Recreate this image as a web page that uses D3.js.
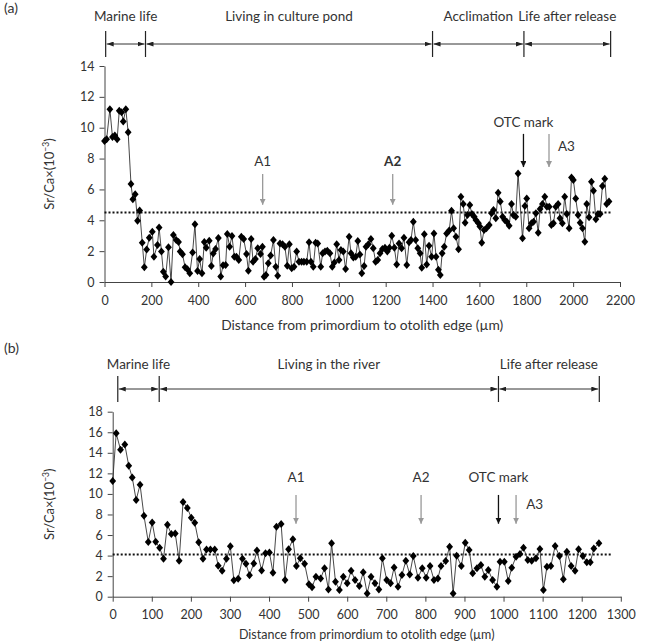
<!DOCTYPE html>
<html>
<head>
<meta charset="utf-8">
<script src="https://cdn.jsdelivr.net/npm/d3@7"></script>
<style>
  html, body { margin: 0; padding: 0; background: #fff; }
  svg { display: block; }
  text { font-family: Lato, "Open Sans", sans-serif; fill: #333; }
</style>
</head>
<body>
<svg id="chart" width="649" height="641"></svg>
<script>
// ---------------- DATA ----------------
// Panel (a): distance (µm) and Sr/Ca (×10^-3)
const distA = [0,9,23,34,44,54,63,73,80,91,101,113,121,131,141,150,161,170,180,191,204,211,226,233,243,251,261,273,284,294,306,316,323,333,344,354,364,376,386,397,406,416,426,434,447,456,464,474,486,496,506,517,524,534,544,554,563,573,584,594,606,614,626,634,644,654,666,
674,681,689,699,709,721,731,739,749,760,770,780,789,799,809,820,830,841,851,863,873,881,891,901,910,923,931,941,951,962,972,981,991,1001,1009,1019,1029,1044,1052,1062,1072,1081,1090,1098,1108,1116,1126,1137,1147,1157,1166,1176,1186,1197,1207,1216,1226,1237,1247,1257,1268,1278,1290,1300,1308,1318,1328,1337,1347,1354,1365,1375,1385,1396,1406,1415,1425,1433,
1441,1450,1460,1471,1481,1490,1500,1511,1521,1531,1539,1549,1559,1568,1578,1585,1596,1602,1610,1620,1630,1642,1652,1660,1670,1680,1689,1699,1708,1717,1727,1737,1745,1755,1765,1784,1794,1802,1812,1822,1831,1841,1851,1859,1869,1879,1888,1898,1907,1916,1926,1936,1944,1954,1964,1973,1983,1993,2001,2011,2021,2030,2040,2050,2058,2068,2078,2087,2097,2106,2115,2125,2135,2143,2153];
const srcaA = [9.14,9.25,11.2,9.4,9.5,9.25,11.1,11.0,10.4,11.2,9.7,6.35,5.36,5.68,3.97,4.64,2.55,0.95,2.1,2.87,3.26,1.64,2.4,3.54,1.97,0.67,0.35,2.25,0,3.05,2.72,2.6,1.97,1.8,0.95,0.82,0.56,1.92,3.74,0.71,1.49,0.56,2.6,2.22,2.68,1.04,1.85,2.14,2.85,0.35,1.08,1.1,3.11,2.29,2.98,1.64,1.64,1.43,2.94,2.79,1.81,0.73,2.79,1.32,1.49,2.18,1.81,
2.29,0.34,0.45,1.21,1.71,2.72,0.99,0.41,2.5,2.44,2.29,1.06,2.44,0.89,0.99,1.97,1.32,1.32,1.32,1.32,2.57,1.32,0.99,2.55,2.5,0.99,1.86,1.97,2.03,1.86,0.99,1.27,2.44,1.43,2.07,1.97,0.84,2.94,1.86,1.58,1.64,2.66,1.79,0.56,1.04,2.29,2.44,2.79,2.18,1.32,1.43,1.86,2.14,2.22,1.97,2.22,3.0,2.22,1.14,2.5,2.18,2.87,1.1,2.57,2.72,3.91,2.72,2.18,1.86,0.93,3.09,1.14,2.35,1.64,3.15,1.64,0.8,0.45,
1.86,2.29,3.15,3.33,4.62,3.48,2.94,2.12,5.53,5.05,3.84,4.34,4.99,4.41,4.23,4.02,3.8,3.59,2.55,3.37,3.48,3.69,4.45,4.67,4.13,5.79,5.21,4.23,4.02,3.91,3.65,5.05,4.34,4.23,7.04,2.83,4.92,5.42,3.48,3.8,3.91,4.45,3.2,4.73,5.05,5.53,4.88,4.88,3.69,3.8,4.88,5.05,4.13,3.8,5.53,4.41,3.48,6.78,6.61,5.42,4.34,3.84,3.48,2.61,5.05,4.19,6.5,5.92,4.06,4.41,4.41,6.22,6.7,5.05,5.21];

// Panel (b)
const distB = [0,9,20,31,41,50,60,70,80,91,101,110,120,130,140,150,160,170,180,191,201,210,220,231,240,250,261,270,280,291,301,310,321,332,341,350,361,369,381,391,401,410,419,431,441,450,461,470,480,491,502,510,520,532,542,552,560,570,580,590,600,610,620,631,641,651,661,671,681,690,701,711,720,730,740,750,760,769,781,792,802,812,822,832,840,852,862,871,880,892,902,912,921,932,942,952,961,972,983,991,1002,1012,1021,1032,1042,1051,1062,1072,1083,1093,1102,1111,1121,1132,1143,1153,1162,1173,1183,1192,1203,1213,1222,1231,1244];
const srcaB = [11.26,15.9,14.3,14.8,12.75,11.6,9.4,10.9,7.88,5.32,7.23,5.35,4.77,3.7,7.0,6.1,6.16,3.5,9.21,8.63,7.69,7.2,5.29,3.7,4.6,4.6,4.6,3.02,2.53,3.7,4.9,1.59,1.75,3.7,3.21,2.08,3.24,4.5,2.56,4.22,4.31,2.34,6.81,7.07,1.62,4.61,5.58,2.98,3.73,3.21,1.2,0.91,1.95,1.78,2.76,0.71,5.19,1.46,0.65,1.95,1.3,2.53,1.62,1.04,2.37,0.32,1.95,1.3,0.71,3.73,1.62,1.3,2.85,0.97,2.11,3.5,2.17,3.96,1.85,2.76,1.85,2.98,1.62,1.78,2.98,3.47,4.87,0.32,3.99,2.98,5.25,4.54,2.27,2.76,3.08,1.95,2.59,1.62,0.97,3.41,3.41,1.52,2.82,3.89,4.15,4.77,3.57,3.5,3.73,4.64,0.65,2.92,2.98,4.93,3.96,1.69,4.38,2.98,2.53,4.61,3.96,3.34,3.34,4.7,5.19];

// Thresholds (dotted lines)
const thresholdA = 4.5, thresholdEndA = 2165;
const thresholdB = 4.1, thresholdEndB = 1277;

// Tick labels
const xTicksA = [0,200,400,600,800,1000,1200,1400,1600,1800,2000,2200];
const yTicksA = [0,2,4,6,8,10,12,14];
const xTicksB = [0,100,200,300,400,500,600,700,800,900,1000,1100,1200,1300];
const yTicksB = [0,2,4,6,8,10,12,14,16,18];

// Life-history phases (boundaries in µm)
const phaseLabelsA = ["Marine life","Living in culture pond","Acclimation","Life after release"];
const phaseBoundsA = [5,175,1400,1790,2160];
const phaseLabelsB = ["Marine life","Living in the river","Life after release"];
const phaseBoundsB = [13,119,987,1245];

// Annotation arrows: label, x (µm), arrow top/bottom (value units), label position
const annLabelsA = ["A1","A2","OTC mark","A3"];
const annXA = [675,1230,1788,1897];
const annTopA = [7.0,7.0,9.6,9.6];
const annBotA = [5.0,5.0,7.45,7.45];
const annTextYA = [7.5,7.55,10.05,8.5];
const annTextXA = [675,1230,1788,1935];

const annLabelsB = ["A1","A2","OTC mark","A3"];
const annXB = [469,789,987,1032];
const annTopB = [9.9,9.9,9.9,9.9];
const annBotB = [7.1,7.1,7.1,7.1];
const annTextYB = [11.15,11.15,11.15,8.5];
const annTextXB = [469,789,987,1058];

// ---------------- DRAW ----------------
const FONT = "Lato, 'Open Sans', sans-serif";
const svg = d3.select("#chart");
const defs = svg.append("defs");
function addMarker(id, color, w, h) {
  defs.append("marker").attr("id", id)
    .attr("viewBox", `0 0 ${w} ${h}`).attr("markerUnits", "userSpaceOnUse")
    .attr("markerWidth", w).attr("markerHeight", h)
    .attr("refX", w).attr("refY", h/2).attr("orient", "auto-start-reverse")
    .append("path").attr("d", `M0,0L${w},${h/2}L0,${h}Z`).attr("fill", color);
}
addMarker("headK", "#222", 7, 5);
addMarker("annGray", "#999", 6, 6);
addMarker("annBlack", "#111", 6, 6);

const diamond = "M0,-4L3.4,0L0,4L-3.4,0Z";

function drawPanel(p) {
  const g = svg.append("g");
  const x = d3.scaleLinear().domain([p.xTicks[0], p.xTicks[p.xTicks.length-1]]).range(p.xRange);
  const y = d3.scaleLinear().domain([p.yTicks[0], p.yTicks[p.yTicks.length-1]]).range(p.yRange);

  // panel letter
  g.append("text").attr("x", 4).attr("y", p.letterY).attr("font-size", 14).text(p.letter);

  // phases header
  const hy = p.headerY;
  p.phaseBounds.forEach(b => {
    g.append("line").attr("x1", x(b)).attr("x2", x(b)).attr("y1", hy - 13).attr("y2", hy + 13)
      .attr("stroke", "#222").attr("stroke-width", 1.2);
  });
  p.phaseLabels.forEach((lab, i) => {
    const a = p.phaseBounds[i], b = p.phaseBounds[i+1];
    g.append("line").attr("x1", x(a) + 1).attr("x2", x(b) - 1).attr("y1", hy).attr("y2", hy)
      .attr("stroke", "#333").attr("stroke-width", 1)
      .attr("marker-start", "url(#headK)").attr("marker-end", "url(#headK)");
    g.append("text").attr("x", x((a + b) / 2)).attr("y", hy + p.headerTextDy)
      .attr("text-anchor", "middle").attr("font-size", 13.5).text(lab);
  });

  // axes
  const xAxis = d3.axisBottom(x).tickValues(p.xTicks).tickSize(5).tickSizeOuter(0).tickPadding(p.xPad).tickFormat(d3.format("d"));
  const yAxis = d3.axisLeft(y).tickValues(p.yTicks).tickSize(5).tickSizeOuter(0).tickPadding(5).tickFormat(d3.format("d"));
  const gx = g.append("g").attr("transform", `translate(0,${p.yRange[0]})`).call(xAxis);
  const gy = g.append("g").attr("transform", `translate(${p.xRange[0]},0)`).call(yAxis);
  [gx, gy].forEach(ax => {
    ax.selectAll("path, line").attr("stroke", "#444");
    ax.selectAll("text").attr("font-size", 12.5).attr("fill", "#333").style("font-family", FONT);
  });

  // axis titles
  g.append("text").attr("x", (p.xRange[0] + p.xRange[1]) / 2).attr("y", p.xTitleY)
    .attr("text-anchor", "middle").attr("font-size", p.xTitleSize)
    .text("Distance from primordium to otolith edge (µm)");
  const yt = g.append("text")
    .attr("transform", `translate(54,${(p.yRange[0] + p.yRange[1]) / 2}) rotate(-90)`)
    .attr("text-anchor", "middle").attr("font-size", 13);
  yt.append("tspan").text("Sr/Ca×(10");
  yt.append("tspan").attr("baseline-shift", "super").attr("font-size", 8.5).text("−3");
  yt.append("tspan").text(")");

  // threshold dotted line
  g.append("line").attr("x1", x(0)).attr("x2", x(p.thrEnd)).attr("y1", y(p.thr)).attr("y2", y(p.thr))
    .attr("stroke", "#111").attr("stroke-width", 2).attr("stroke-dasharray", "2,2");

  // series
  const pts = p.dist.map((d, i) => [d, p.vals[i]]);
  g.append("path").datum(pts)
    .attr("d", d3.line().x(d => x(d[0])).y(d => y(d[1])))
    .attr("fill", "none").attr("stroke", "#333").attr("stroke-width", 0.9);
  g.selectAll(".pt").data(pts).enter().append("path")
    .attr("d", diamond).attr("fill", "#000")
    .attr("transform", d => `translate(${x(d[0])},${y(d[1])})`);

  // annotations
  p.annLabels.forEach((lab, i) => {
    const black = lab === "OTC mark";
    g.append("line").attr("x1", x(p.annX[i])).attr("x2", x(p.annX[i]))
      .attr("y1", y(p.annTop[i])).attr("y2", y(p.annBot[i]))
      .attr("stroke", black ? "#111" : "#999").attr("stroke-width", 1.3)
      .attr("marker-end", black ? "url(#annBlack)" : "url(#annGray)");
    const isA3 = lab === "A3";
    g.append("text").attr("x", x(p.annTextX[i])).attr("y", y(p.annTextY[i]))
      .attr("text-anchor", isA3 ? "start" : "middle")
      .attr("font-size", 13.5)
      .attr("font-weight", (p.boldLabel === lab) ? 700 : 400)
      .text(lab);
  });
}

drawPanel({
  letter: "(a)", letterY: 13, headerY: 44, headerTextDy: -23,
  xRange: [104.5, 620], yRange: [282, 66], xPad: 9, xTitleY: 330, xTitleSize: 13.8,
  xTicks: xTicksA, yTicks: yTicksA, dist: distA, vals: srcaA,
  thr: thresholdA, thrEnd: thresholdEndA,
  phaseLabels: phaseLabelsA, phaseBounds: phaseBoundsA,
  annLabels: annLabelsA, annX: annXA, annTop: annTopA, annBot: annBotA,
  annTextY: annTextYA, annTextX: annTextXA, boldLabel: "A2"
});
drawPanel({
  letter: "(b)", letterY: 353, headerY: 389, headerTextDy: -20,
  xRange: [112.7, 620.8], yRange: [596.7, 411.7], xPad: 8, xTitleY: 638.5, xTitleSize: 12.5,
  xTicks: xTicksB, yTicks: yTicksB, dist: distB, vals: srcaB,
  thr: thresholdB, thrEnd: thresholdEndB,
  phaseLabels: phaseLabelsB, phaseBounds: phaseBoundsB,
  annLabels: annLabelsB, annX: annXB, annTop: annTopB, annBot: annBotB,
  annTextY: annTextYB, annTextX: annTextXB, boldLabel: null
});
</script>
</body>
</html>
